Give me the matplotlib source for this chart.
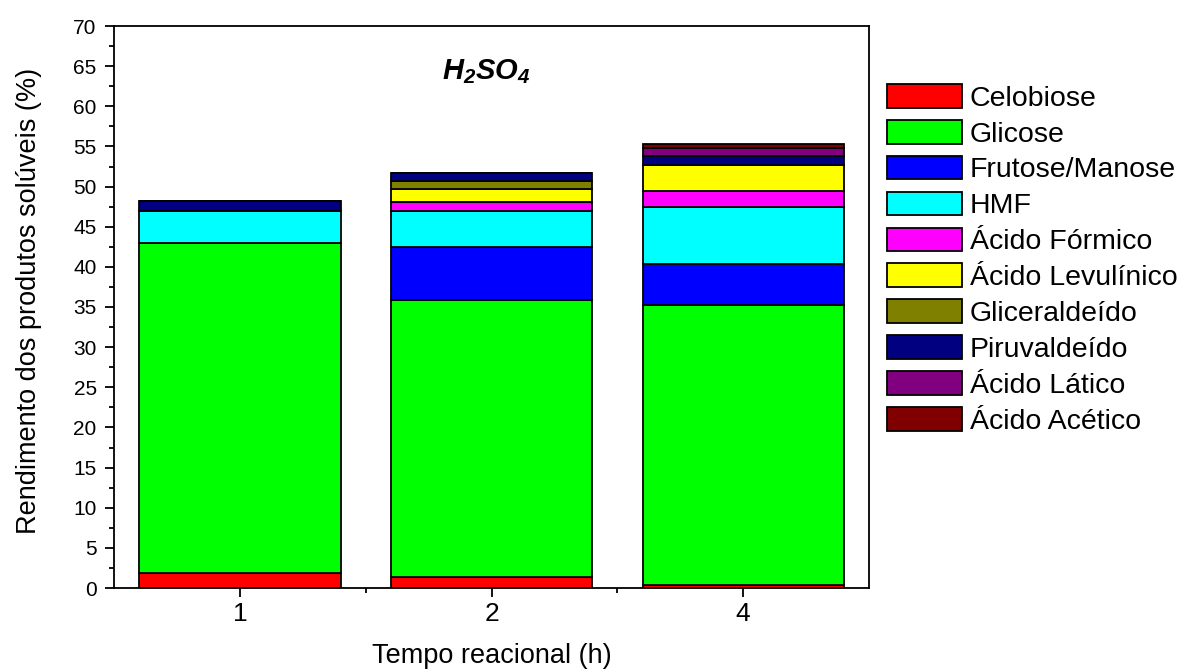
import matplotlib.pyplot as plt
import numpy as np

plt.rcParams['font.family'] = ['Liberation Sans', 'DejaVu Sans']
plt.rcParams['mathtext.fontset'] = 'custom'
plt.rcParams['mathtext.bf'] = 'Liberation Sans:bold:italic'
plt.rcParams['mathtext.rm'] = 'Liberation Sans:bold:italic'

tempos = ['1', '2', '4']

# rendimento de cada produto (%) em cada tempo
celobiose = [1.9, 1.4, 0.4]
glicose = [41.1, 34.5, 34.9]
frutose_manose = [0.0, 6.6, 5.1]
hmf = [4.0, 4.5, 7.0]
ac_formico = [0.0, 1.1, 2.0]
ac_levulinico = [0.0, 1.6, 3.3]
gliceraldeido = [0.0, 1.0, 0.0]
piruvaldeido = [1.2, 1.0, 1.1]
ac_latico = [0.0, 0.0, 1.0]
ac_acetico = [0.0, 0.0, 0.5]

series = [
    ('Celobiose', celobiose, '#ff0000'),
    ('Glicose', glicose, '#00ff00'),
    ('Frutose/Manose', frutose_manose, '#0000ff'),
    ('HMF', hmf, '#00ffff'),
    ('Ácido Fórmico', ac_formico, '#ff00ff'),
    ('Ácido Levulínico', ac_levulinico, '#ffff00'),
    ('Gliceraldeído', gliceraldeido, '#808000'),
    ('Piruvaldeído', piruvaldeido, '#000080'),
    ('Ácido Lático', ac_latico, '#800080'),
    ('Ácido Acético', ac_acetico, '#800000'),
]

fig = plt.figure(figsize=(11.86, 6.70), dpi=100)
ax = fig.add_axes([114 / 1186, 82 / 670, 755 / 1186, 562 / 670])

x = np.arange(len(tempos))
bottom = np.zeros(len(tempos))
for nome, vals, cor in series:
    vals = np.array(vals)
    ax.bar(x, vals, 0.8, bottom=bottom, color=cor, edgecolor='black',
           linewidth=1.3, label=nome)
    bottom += vals

ax.set_xlim(-0.5, 2.5)
ax.set_ylim(0, 70)
ax.set_xticks(x)
ax.set_xticklabels(tempos)
ax.set_xticks([0.5, 1.5], minor=True)
ax.set_yticks(np.arange(0, 71, 5))
ax.set_yticks(np.arange(2.5, 70, 5), minor=True)
ax.tick_params(axis='both', which='major', direction='out', length=6.5, width=1.3)
ax.tick_params(axis='both', which='minor', direction='out', length=3.5, width=1.3)
ax.tick_params(axis='y', which='major', labelsize=15, pad=6)
ax.tick_params(axis='x', which='major', labelsize=19, pad=3.6)
for s in ax.spines.values():
    s.set_linewidth(1.3)

ax.set_xlabel('Tempo reacional (h)', fontsize=19.5)
ax.set_ylabel('Rendimento dos produtos solúveis (%)', fontsize=19.5)
ax.xaxis.set_label_coords(0.5, -0.097)
ax.yaxis.set_label_coords(-0.095, 0.51)

ax.text(0.98, 63.4, r'$\mathbf{H_2SO_4}$', fontsize=21, ha='center', va='baseline')

ax.legend(loc='upper left', bbox_to_anchor=(887 / 1186, 1 - 84 / 670),
          bbox_transform=fig.transFigure, frameon=False,
          fontsize=20.5, handlelength=2.63, handleheight=0.9, labelspacing=0.29,
          handletextpad=0.28, borderpad=0, borderaxespad=0)

fig.savefig('out.png', dpi=100)
